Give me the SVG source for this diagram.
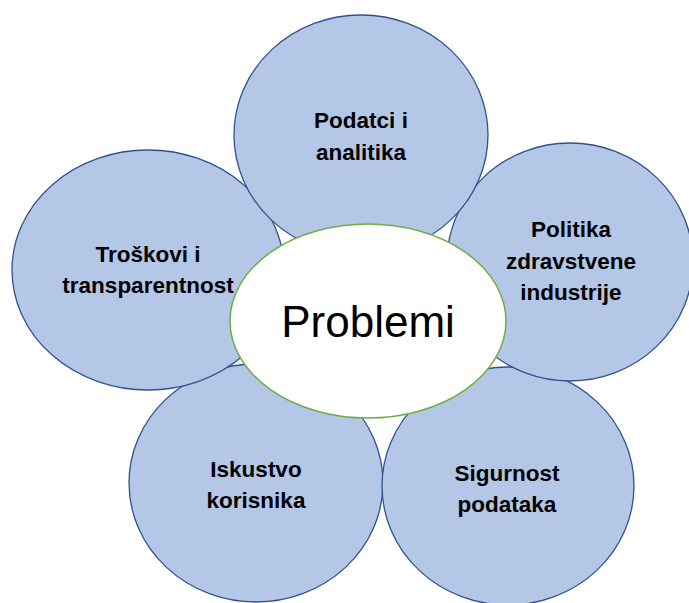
<svg xmlns="http://www.w3.org/2000/svg" width="689" height="603" viewBox="0 0 689 603">
<style>
.c{fill:#B4C7E7;stroke:#2F528F;stroke-width:1.3}
.t{font-family:"Liberation Sans",Arial,sans-serif;font-weight:bold;font-size:22.5px;fill:#000;text-anchor:middle}
.m{fill:#FFFFFF;stroke:#70AD47;stroke-width:1.5}
.mt{font-family:"Liberation Sans",Arial,sans-serif;font-size:44px;fill:#000;text-anchor:middle}
</style>
<rect width="689" height="603" fill="#FFFFFF"/>
<g id="connectors"></g>
<g id="iskustvo">
<ellipse class="c" cx="256" cy="483" rx="127" ry="119"/>
<text class="t" x="256" y="477">Iskustvo</text>
<text class="t" x="256" y="508">korisnika</text>
</g>
<g id="sigurnost">
<ellipse class="c" cx="508" cy="486" rx="126" ry="119"/>
<text class="t" x="507" y="481">Sigurnost</text>
<text class="t" x="507" y="512">podataka</text>
</g>
<g id="politika">
<ellipse class="c" cx="570" cy="262" rx="123" ry="119"/>
<text class="t" x="571" y="237">Politika</text>
<text class="t" x="571" y="269">zdravstvene</text>
<text class="t" x="571" y="300">industrije</text>
</g>
<g id="troskovi">
<ellipse class="c" cx="148" cy="270" rx="136" ry="120"/>
<text class="t" x="148" y="262">Troškovi i</text>
<text class="t" x="148" y="293">transparentnost</text>
</g>
<g id="podatci">
<ellipse class="c" cx="361" cy="135" rx="127" ry="120"/>
<text class="t" x="361" y="128">Podatci i</text>
<text class="t" x="361" y="160">analitika</text>
</g>
<g id="problemi">
<ellipse class="m" cx="368" cy="321" rx="138" ry="97"/>
<text class="mt" x="368" y="337">Problemi</text>
</g>
</svg>
